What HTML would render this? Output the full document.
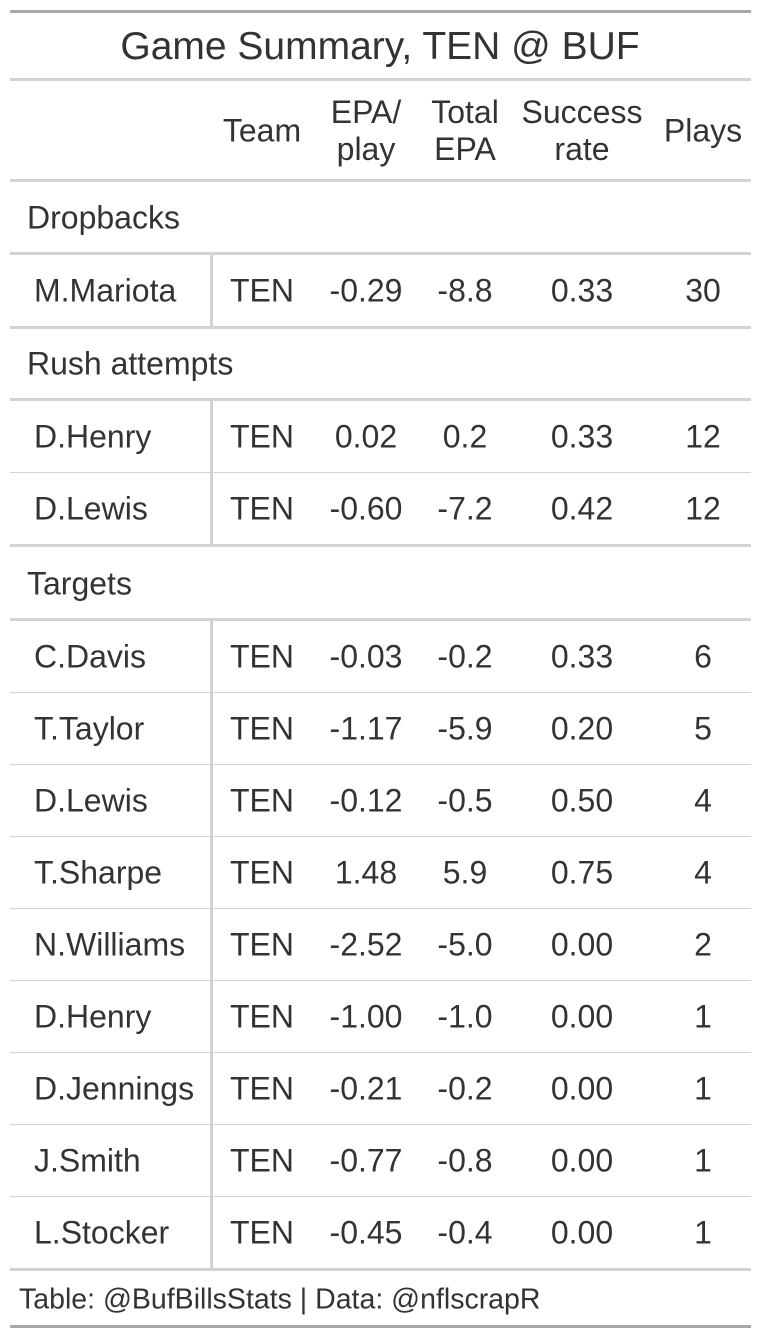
<!DOCTYPE html>
<html><head><meta charset="utf-8"><style>
body{margin:0;width:761px;height:1339px;background:#fff;position:relative;font-family:"Liberation Sans",Arial,sans-serif;color:#333;overflow:hidden}
.a{position:absolute}
.hl{position:absolute;left:10px;width:741px;background:#d3d3d3}
.t{position:absolute;font-size:32px;line-height:37px;white-space:nowrap;transform:translate(-50%,-50%)}
.l{position:absolute;font-size:32px;line-height:37px;white-space:nowrap;transform:translateY(-50%)}
</style></head><body>
<div class="hl" style="top:10px;height:3px;background:#a8a8a8"></div>
<div class="t" style="left:380px;top:47px;font-size:39px;line-height:44px">Game Summary, TEN @ BUF</div>
<div class="hl" style="top:78px;height:3px"></div>
<div class="t" style="left:262px;top:131px">Team</div>
<div class="t" style="left:366px;top:131px;text-align:center">EPA/<br>play</div>
<div class="t" style="left:465px;top:131px;text-align:center">Total<br>EPA</div>
<div class="t" style="left:582px;top:131px;text-align:center">Success<br>rate</div>
<div class="t" style="left:703px;top:131px">Plays</div>
<div class="hl" style="top:179px;height:3px"></div>
<div class="l" style="left:19px;top:1300px;font-size:28.5px">Table: @BufBillsStats | Data: @nflscrapR</div>
<div class="hl" style="top:1325px;height:3px;background:#a8a8a8"></div>
<script>
const groups=["Dropbacks","Rush attempts","Targets"];
const groupTops=[182,328,548];
const players=[["M.Mariota"],["D.Henry","D.Lewis"],["C.Davis","T.Taylor","D.Lewis","T.Sharpe","N.Williams","D.Henry","D.Jennings","J.Smith","L.Stocker"]];
const epaPlay=[["-0.29"],["0.02","-0.60"],["-0.03","-1.17","-0.12","1.48","-2.52","-1.00","-0.21","-0.77","-0.45"]];
const totalEpa=[["-8.8"],["0.2","-7.2"],["-0.2","-5.9","-0.5","5.9","-5.0","-1.0","-0.2","-0.8","-0.4"]];
const success=[["0.33"],["0.33","0.42"],["0.33","0.20","0.50","0.75","0.00","0.00","0.00","0.00","0.00"]];
const plays=[["30"],["12","12"],["6","5","4","4","2","1","1","1","1"]];
const cx=[262,366,465,582,703];
function mk(cls,style,txt){const d=document.createElement('div');d.className=cls;d.style.cssText=style;if(txt!=null)d.textContent=txt;document.body.appendChild(d);return d;}
groups.forEach((g,gi)=>{
  const top=groupTops[gi];
  let el=mk('l','left:27px;top:'+(top+36)+'px',g);
  
  
  el=mk('hl','top:'+(top+70)+'px;height:3px');
  
  
  const bt=top+73;
  const n=players[gi].length;
  players[gi].forEach((p,i)=>{
    const y=bt+72*i+36;
    let c=mk('l','left:34px;top:'+y+'px',p);
    
    
    const vals=['TEN',epaPlay[gi][i],totalEpa[gi][i],success[gi][i],plays[gi][i]];
    vals.forEach((v,k)=>{
      const e=mk('t','left:'+cx[k]+'px;top:'+y+'px',v);
      
      
    });
    if(i<n-1){
      const r=mk('hl','top:'+(bt+72*(i+1)-1)+'px;height:1px');
      
      
    }
  });
  const end=bt+72*n-1;
  el=mk('hl','top:'+end+'px;height:3px');
  
  
  el=mk('a','left:210px;width:3px;background:#d3d3d3;top:'+bt+'px;height:'+(end-bt)+'px');
  
  
});
</script>
</body></html>
